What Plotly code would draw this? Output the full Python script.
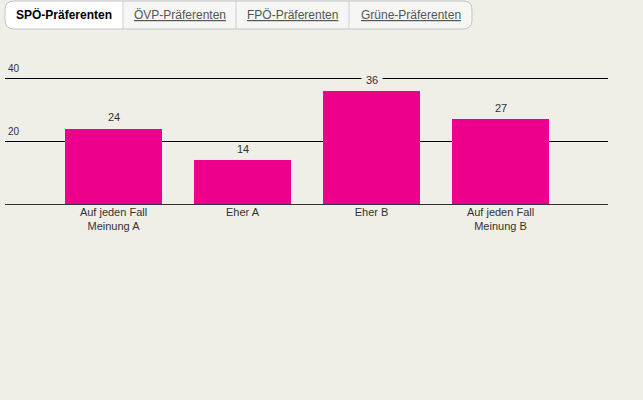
import plotly.graph_objects as go

W, H = 643, 400

# data
categories = ["Auf jeden Fall<br>Meinung A", "Eher A", "Eher B", "Auf jeden Fall<br>Meinung B"]
values = [24, 14, 36, 27]
y_ticks = [20, 40]
tab_labels = ["SPÖ-Präferenten", "ÖVP-Präferenten", "FPÖ-Präferenten", "Grüne-Präferenten"]

BG = "#efeee7"
PINK = "#ec008c"
FONT = "Liberation Sans, Arial, sans-serif"


def px(x):
    return x / W


def py(y):
    return 1 - y / H


# plot area in pixels
left, right = 5, 608
base_y = 204
unit = 63 / 20  # px per value unit
y_top_val = 41

fig = go.Figure()
fig.add_trace(go.Bar(
    x=list(range(len(categories))), y=values,
    marker=dict(color=PINK, line=dict(width=0)),
    width=0.752, hoverinfo="skip", showlegend=False,
))

for i, v in enumerate(values):
    fig.add_annotation(x=i, y=v, text=str(v), showarrow=False, yshift=11,
                       font=dict(size=11, color="#333", family=FONT),
                       bgcolor=BG, borderpad=0, width=20, height=12)

fig.update_xaxes(
    domain=[px(left), px(right)], automargin=False,
    range=[(left - 113.5) / 129, (right - 113.5) / 129],
    tickmode="array", tickvals=list(range(len(categories))), ticktext=categories,
    showgrid=False, zeroline=False, showline=False, ticks="",
    tickfont=dict(size=11, color="#333", family=FONT), fixedrange=True,
)
fig.update_yaxes(
    domain=[py(base_y), py(base_y - y_top_val * unit)], automargin=False,
    range=[0, y_top_val],
    tickmode="array", tickvals=y_ticks, ticktext=[str(t) for t in y_ticks],
    ticklabelposition="inside top", ticklabeloverflow="allow", ticklabelshift=-3,
    showgrid=True, gridcolor="#000", gridwidth=1,
    zeroline=True, zerolinecolor="#333", zerolinewidth=1,
    showline=False, ticks="",
    tickfont=dict(size=10, color="#333", family=FONT), fixedrange=True,
)

# tab bar
tx = [5, 123, 236, 349, 472]
t0, t1, r = 1, 29, 9
rx, ry = r / W, r / H


def rounded(x0, x1, y0, y1, round_left=True, round_right=True):
    X0, X1, Y0, Y1 = px(x0), px(x1), py(y0), py(y1)
    p = []
    if round_left:
        p.append(f"M{X0 + rx},{Y0}")
    else:
        p.append(f"M{X0},{Y0}")
    if round_right:
        p.append(f"L{X1 - rx},{Y0} Q{X1},{Y0} {X1},{Y0 - ry} L{X1},{Y1 + ry} Q{X1},{Y1} {X1 - rx},{Y1}")
    else:
        p.append(f"L{X1},{Y0} L{X1},{Y1}")
    if round_left:
        p.append(f"L{X0 + rx},{Y1} Q{X0},{Y1} {X0},{Y1 + ry} L{X0},{Y0 - ry} Q{X0},{Y0} {X0 + rx},{Y0} Z")
    else:
        p.append(f"L{X0},{Y1} Z")
    return " ".join(p)


fig.add_shape(type="path", xref="paper", yref="paper", path=rounded(tx[0], tx[-1], t0, t1),
              fillcolor="#f6f6f4", line=dict(width=0), layer="above")
fig.add_shape(type="path", xref="paper", yref="paper", path=rounded(tx[0], tx[1], t0, t1, True, False),
              fillcolor="#ffffff", line=dict(width=0), layer="above")
for x in tx[1:-1]:
    fig.add_shape(type="line", xref="paper", yref="paper", x0=px(x), x1=px(x), y0=py(t0), y1=py(t1),
                  line=dict(color="#cfcfcf", width=1), layer="above")
fig.add_shape(type="path", xref="paper", yref="paper", path=rounded(tx[0], tx[-1], t0, t1),
              fillcolor="rgba(0,0,0,0)", line=dict(color="#c4c4c4", width=1), layer="above")

for i, lab in enumerate(tab_labels):
    txt = f"<b>{lab}</b>" if i == 0 else f"<u>{lab}</u>"
    fig.add_annotation(xref="paper", yref="paper", x=px((tx[i] + tx[i + 1]) / 2), y=py((t0 + t1) / 2),
                       text=txt, showarrow=False, xanchor="center", yanchor="middle",
                       font=dict(size=12, color="#000" if i == 0 else "#555", family=FONT))

fig.update_layout(
    width=W, height=H, margin=dict(l=0, r=0, t=0, b=0, autoexpand=False),
    paper_bgcolor=BG, plot_bgcolor=BG, bargap=0,
    font=dict(family=FONT, color="#333"),
)

fig.write_html("out.html", config={"displayModeBar": False},
               post_script="document.body.style.margin='0';")
